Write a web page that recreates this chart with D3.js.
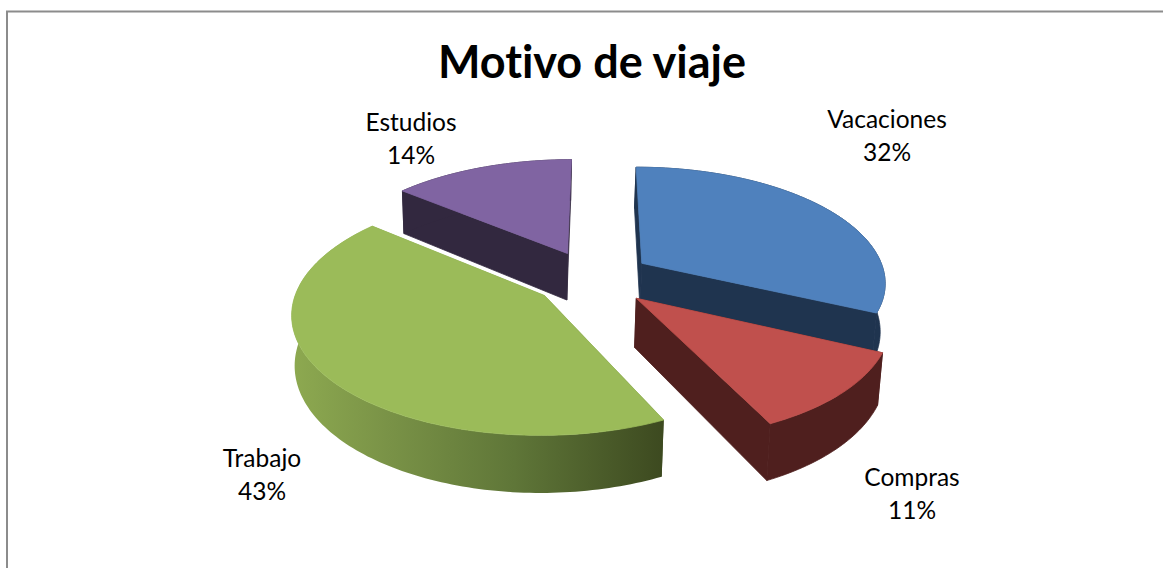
<!DOCTYPE html>
<html>
<head>
<meta charset="utf-8">
<script src="https://d3js.org/d3.v7.min.js"></script>
<style>
html,body{margin:0;padding:0;background:#fff;overflow:hidden}
svg{display:block}
text{font-family:Lato,"Open Sans",sans-serif;fill:#000;font-variant-ligatures:none}
</style>
</head>
<body>
<svg id="c" width="1163" height="568"></svg>
<script>
const categories = ["Vacaciones","Compras","Trabajo","Estudios"];
const values = [32,11,43,14];
const topColors = ["#4f81bd","#c0504d","#9bbb59","#8064a2"];
const wallColors = ["#1f344f","#4f1f1e","url(#greenWall)","#32283f"];
const labelX = [887,912,262,411];
const labelY = [120,478,459,123];
const drawOrder = [3,0,2,1];
const title = "Motivo de viaje";

const W=1163,H=568;
const svg=d3.select("#c");
const defs=svg.append("defs");
const grad=defs.append("linearGradient").attr("id","greenWall")
  .attr("gradientUnits","userSpaceOnUse").attr("x1",293).attr("x2",662).attr("y1",0).attr("y2",0);
[[0,"#8da950"],[0.25,"#7a9347"],[0.6,"#5f7638"],[1,"#3d4a20"]].forEach(s=>grad.append("stop").attr("offset",s[0]).attr("stop-color",s[1]));

// frame
svg.append("path").attr("d",`M7,${H} V11.5 H${W}`).attr("fill","none").attr("stroke","#8c8c8c").attr("stroke-width",2);

// projection of the pie plane
const cx=592.5,cy=278,R=244,K=114,D=6.9,depth=48,explode=0.245,bottomShrink=0.9866,vanishX=514,shear=2;
function proj(X,Y,bottom){
  const s=D/(D-Y);
  let px=cx+X*R*s+shear*(Y+Y*Y), py=cy+Y*K*s;
  if(bottom){px=vanishX+(px-vanishX)*bottomShrink; py+=depth*s;}
  return [px,py];
}
const pie=d3.pie().sort(null).startAngle(0).endAngle(2*Math.PI)(values);
const line=d3.line();

const slices=pie.map((d,i)=>{
  const mid=(d.startAngle+d.endAngle)/2;
  const ox=Math.sin(mid)*explode, oy=-Math.cos(mid)*explode;
  const n=Math.max(8,Math.ceil((d.endAngle-d.startAngle)/0.02));
  const angs=d3.range(n+1).map(j=>d.startAngle+(d.endAngle-d.startAngle)*j/n);
  const rim=angs.map(a=>[ox+Math.sin(a),oy-Math.cos(a)]);
  return {i,apex:[ox,oy],rim};
});

const g=svg.append("g");
drawOrder.forEach(i=>{
  const s=slices[i];
  const P=(p,b)=>proj(p[0],p[1],b);
  const wall=wallColors[i];
  const sg=g.append("g");
  const seam=i===2?"none":wall;
  [[s.apex,s.rim[0]],[s.apex,s.rim[s.rim.length-1]]].forEach(q=>{
    sg.append("path").attr("d",line([P(q[0],false),P(q[1],false),P(q[1],true),P(q[0],true)])+"Z")
      .attr("fill",wall).attr("stroke",seam).attr("stroke-width",0.8);
  });
  const outer=s.rim.map(p=>P(p,false)).concat(s.rim.slice().reverse().map(p=>P(p,true)));
  sg.append("path").attr("d",line(outer)+"Z").attr("fill",wall).attr("stroke",seam).attr("stroke-width",0.8);
  const topPts=[P(s.apex,false)].concat(s.rim.map(p=>P(p,false)));
  sg.append("path").attr("d",line(topPts)+"Z").attr("fill",topColors[i]).attr("stroke",topColors[i]).attr("stroke-width",0.8);
});

// labels
svg.append("text").attr("x",592).attr("y",78).attr("text-anchor","middle")
  .attr("font-size",45).attr("font-weight",700).text(title);
categories.forEach((c,i)=>{
  svg.append("text").attr("x",labelX[i]).attr("y",labelY[i]+8).attr("text-anchor","middle").attr("font-size",24.5).text(c);
  svg.append("text").attr("x",labelX[i]).attr("y",labelY[i]+41).attr("text-anchor","middle").attr("font-size",24.5).text(values[i]+"%");
});
</script>
</body>
</html>
